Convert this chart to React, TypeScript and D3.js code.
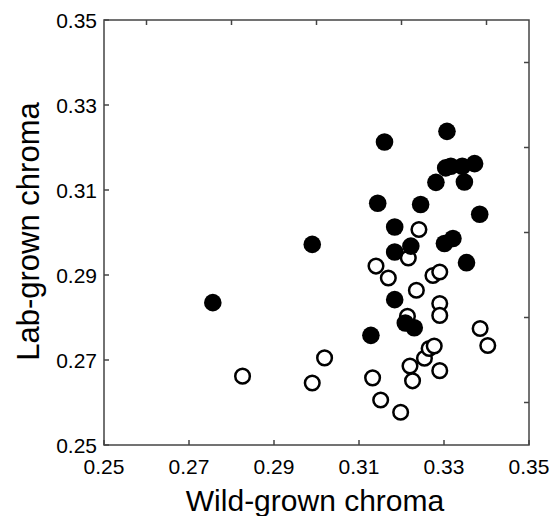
import React from "react";
import * as d3 from "d3";

// filled markers
const wildFilled = [
  0.2756, 0.299, 0.316, 0.3307, 0.3144, 0.3245, 0.3281, 0.3304, 0.3316, 0.3343,
  0.3372, 0.3348, 0.3384, 0.3184, 0.3184, 0.3222, 0.3301, 0.3321, 0.3353, 0.3184,
  0.3209, 0.323, 0.3128,
];
const labFilled = [
  0.2835, 0.2972, 0.3213, 0.3238, 0.3069, 0.3066, 0.3118, 0.3152, 0.3156, 0.3156,
  0.3162, 0.3119, 0.3043, 0.3013, 0.2954, 0.2968, 0.2974, 0.2986, 0.2929, 0.2842,
  0.2787, 0.2776, 0.2758,
];

// open markers
const wildOpen = [
  0.2826, 0.299, 0.3019, 0.3132, 0.3151, 0.3198, 0.322, 0.3226, 0.3254, 0.3265,
  0.3277, 0.329, 0.3385, 0.3403, 0.3214, 0.329, 0.329, 0.3235, 0.314, 0.3169,
  0.3216, 0.3241, 0.3274, 0.329,
];
const labOpen = [
  0.2662, 0.2646, 0.2705, 0.2658, 0.2606, 0.2577, 0.2686, 0.2651, 0.2704, 0.2727,
  0.2733, 0.2675, 0.2774, 0.2734, 0.2803, 0.2833, 0.2805, 0.2864, 0.2921, 0.2893,
  0.294, 0.3007, 0.2899, 0.2907,
];

const labelTicks = [0.25, 0.27, 0.29, 0.31, 0.33, 0.35];
const minorTicks = [0.26, 0.28, 0.3, 0.32, 0.34];

const W = 558;
const H = 516;
const margin = { top: 20, right: 29, bottom: 71, left: 104 };

export default function App() {
  const x = d3.scaleLinear().domain([0.25, 0.35]).range([margin.left, W - margin.right]);
  const y = d3.scaleLinear().domain([0.25, 0.35]).range([H - margin.bottom, margin.top]);
  const [x0, x1] = x.range();
  const [y0, y1] = y.range(); // y0 bottom, y1 top
  const tl = 5;
  const axisColor = "#444";
  const font = "'Liberation Sans', Arial, sans-serif";

  return (
    <svg
      width={W}
      height={H}
      style={{ position: "absolute", left: 0, top: 0, background: "#fff" }}
      fontFamily={font}
    >
      {/* open circles */}
      {wildOpen.map((d, i) => (
        <circle key={"o" + i} cx={x(d)} cy={y(labOpen[i])} r={7.3} fill="#fff" stroke="#000" strokeWidth={2.5} />
      ))}
      {/* filled circles */}
      {wildFilled.map((d, i) => (
        <circle key={"f" + i} cx={x(d)} cy={y(labFilled[i])} r={8.8} fill="#000" />
      ))}

      {/* frame */}
      <rect x={x0} y={y1} width={x1 - x0} height={y0 - y1} fill="none" stroke={axisColor} strokeWidth={1.5} />

      {/* bottom + left ticks */}
      {labelTicks.map((t) => (
        <g key={"b" + t}>
          <line x1={x(t)} x2={x(t)} y1={y0} y2={y0 - tl} stroke={axisColor} strokeWidth={1.5} />
          <text x={x(t)} y={y0 + 29} textAnchor="middle" fontSize={21} fill="#000">
            {t.toFixed(2)}
          </text>
          <line x1={x0} x2={x0 + tl} y1={y(t)} y2={y(t)} stroke={axisColor} strokeWidth={1.5} />
          <text x={x0 - 7} y={y(t) + 7.5} textAnchor="end" fontSize={21} fill="#000">
            {t.toFixed(2)}
          </text>
        </g>
      ))}
      {/* top + right ticks */}
      {minorTicks.map((t) => (
        <g key={"t" + t}>
          <line x1={x(t)} x2={x(t)} y1={y1} y2={y1 + tl} stroke={axisColor} strokeWidth={1.5} />
          <line x1={x1} x2={x1 - tl} y1={y(t)} y2={y(t)} stroke={axisColor} strokeWidth={1.5} />
        </g>
      ))}

      <text x={315} y={511} textAnchor="middle" fontSize={30} fill="#000">
        Wild-grown chroma
      </text>
      <text
        transform={`translate(39,${(y0 + y1) / 2 - 1}) rotate(-90)`}
        textAnchor="middle"
        fontSize={31}
        fill="#000"
      >
        Lab-grown chroma
      </text>
    </svg>
  );
}
